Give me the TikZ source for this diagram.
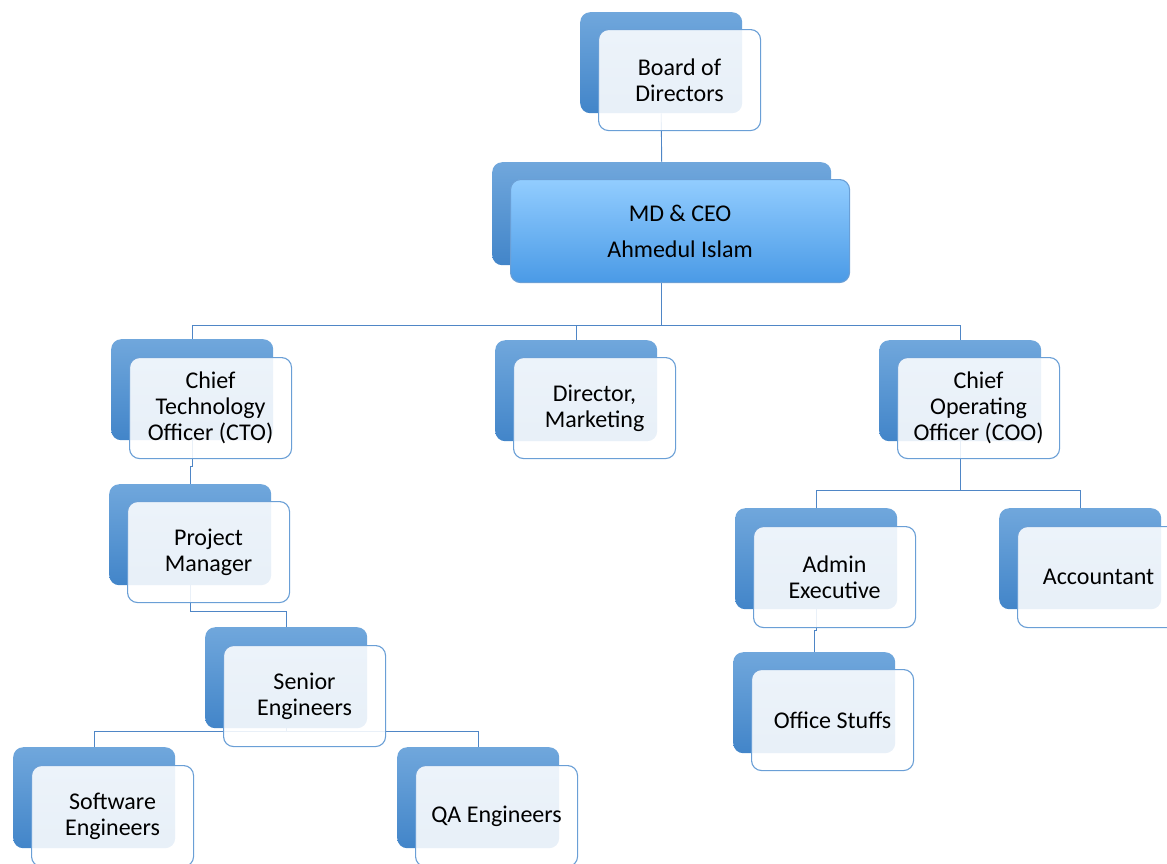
\documentclass[tikz,border=0pt]{standalone}
\usepackage{fontspec}
\setmainfont{Carlito}
\definecolor{backtop}{HTML}{70A7DC}
\definecolor{backbot}{HTML}{4285C9}
\definecolor{frontline}{HTML}{6A9FD6}
\definecolor{linkcol}{HTML}{4F86C6}
\definecolor{ceotop}{HTML}{92CDFF}
\definecolor{ceobot}{HTML}{4A9AE6}
\tikzset{
  backbox/.style={rectangle, rounded corners=10pt, top color=backtop, bottom color=backbot,
    minimum width=162pt, minimum height=101pt, anchor=north west, inner sep=0pt},
  frontbox/.style={rectangle, rounded corners=10pt, fill=white, fill opacity=0.88, text opacity=1,
    draw=frontline, line width=1.1pt, minimum width=162pt, minimum height=101pt,
    anchor=north west, align=center, inner sep=0pt, font=\fontsize{24}{26}\selectfont},
  link/.style={draw=linkcol, line width=0.9pt}
}
\begin{document}
\begin{tikzpicture}[x=1pt,y=-1pt]
\useasboundingbox (0,0) rectangle (1167,863);
\clip (0,0) rectangle (1167,863);

\node[backbox] (board-b) at (580,12) {};
\node[backbox, minimum width=339pt, minimum height=103pt] (ceo-b) at (492,162) {};
\node[backbox] (cto-b) at (111,339) {};
\node[backbox] (mkt-b) at (495,340) {};
\node[backbox] (coo-b) at (879,340) {};
\node[backbox] (pm-b) at (109,484) {};
\node[backbox] (sen-b) at (205,627) {};
\node[backbox] (sw-b) at (13,747) {};
\node[backbox] (qa-b) at (397,747) {};
\node[backbox] (adm-b) at (735,508) {};
\node[backbox] (acc-b) at (999,508) {};
\node[backbox] (off-b) at (733,652) {};

\draw[link] (board-b.south) -- (ceo-b.north);
\draw[link] (ceo-b.south) -- ++(0,60) coordinate (lvl2);
\draw[link] (cto-b.north) |- (lvl2) -| (coo-b.north);
\draw[link] (mkt-b.north) |- (lvl2);
\draw[link] (cto-b.south) -- ++(0,26) -| (pm-b.north);
\draw[link] (pm-b.south) -- ++(0,26) -| (sen-b.north);
\draw[link] (sen-b.south) -- ++(0,3) coordinate (lvl5);
\draw[link] (sw-b.north) |- (lvl5) -| (qa-b.north);
\draw[link] (coo-b.south) -- ++(0,49) coordinate (lvl3);
\draw[link] (adm-b.north) |- (lvl3) -| (acc-b.north);
\draw[link] (adm-b.south) -- ++(0,21) -| (off-b.north);

\node[frontbox] (board) at (board-b.north west) [xshift=18pt, yshift=-17pt] {Board of\\Directors};
\node[frontbox, minimum width=339pt, minimum height=103pt, top color=ceotop, bottom color=ceobot,
  fill opacity=1] (ceo) at (ceo-b.north west) [xshift=18pt, yshift=-17pt] {MD \& CEO\\[10pt]Ahmedul Islam};
\node[frontbox] (cto) at (cto-b.north west) [xshift=18pt, yshift=-18pt] {Chief\\Technology\\Officer (CTO)};
\node[frontbox] (mkt) at (mkt-b.north west) [xshift=18pt, yshift=-17pt] {Director,\\Marketing};
\node[frontbox] (coo) at (coo-b.north west) [xshift=18pt, yshift=-17pt] {Chief\\Operating\\Officer (COO)};
\node[frontbox] (pm) at (pm-b.north west) [xshift=18pt, yshift=-17pt] {Project\\Manager};
\node[frontbox] (sen) at (sen-b.north west) [xshift=18pt, yshift=-18pt] {Senior\\Engineers};
\node[frontbox] (sw) at (sw-b.north west) [xshift=18pt, yshift=-18pt] {Software\\Engineers};
\node[frontbox] (qa) at (qa-b.north west) [xshift=18pt, yshift=-18pt] {QA Engineers};
\node[frontbox] (adm) at (adm-b.north west) [xshift=18pt, yshift=-18pt] {Admin\\Executive};
\node[frontbox] (acc) at (acc-b.north west) [xshift=18pt, yshift=-18pt] {Accountant};
\node[frontbox] (off) at (off-b.north west) [xshift=18pt, yshift=-17pt] {Office Stuffs};

\end{tikzpicture}
\end{document}
